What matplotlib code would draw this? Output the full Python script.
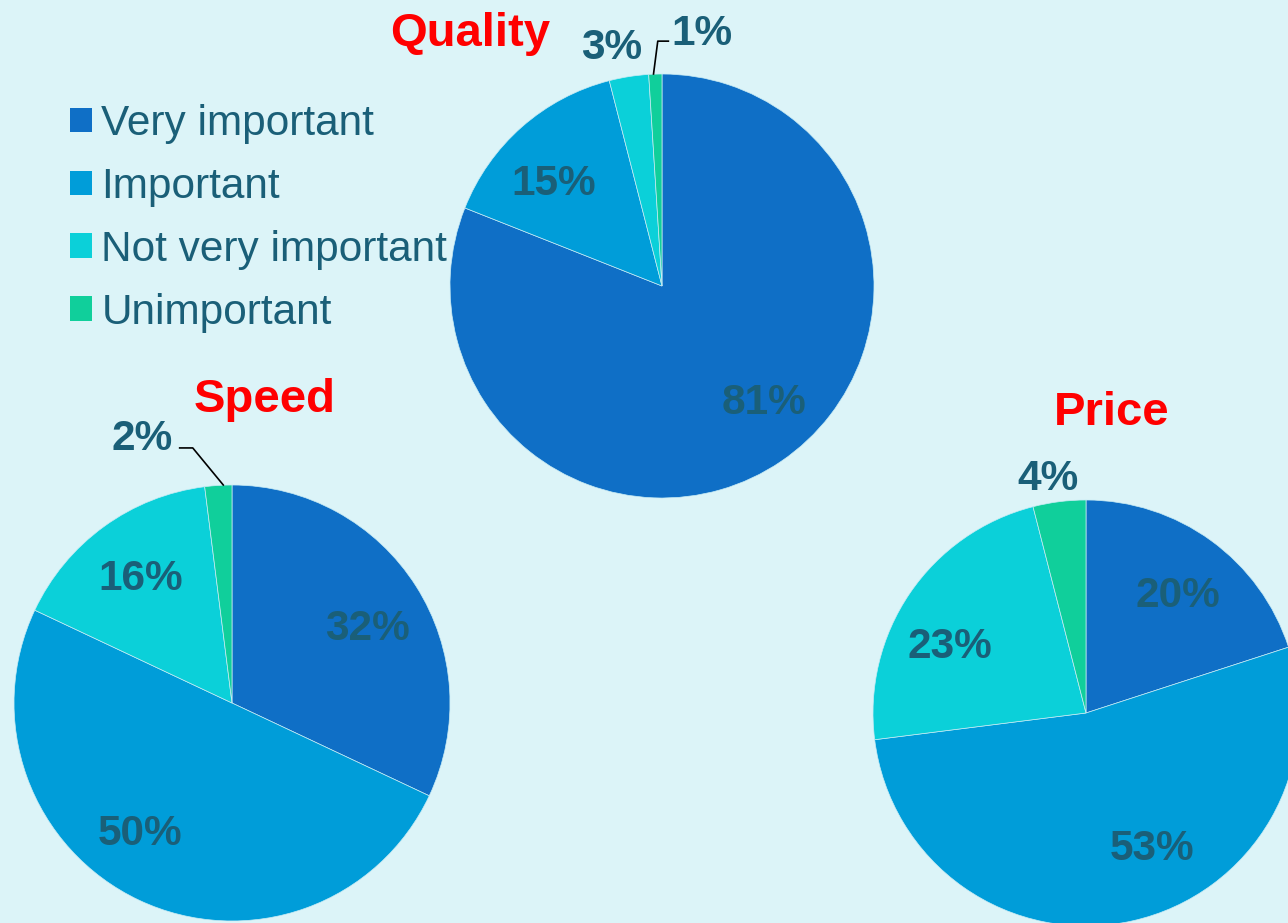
import matplotlib.pyplot as plt
from matplotlib.patches import Patch
from matplotlib.transforms import offset_copy

plt.rcParams["font.family"] = ["Liberation Sans", "DejaVu Sans"]

categories = ["Very important", "Important", "Not very important", "Unimportant"]
colors = ["#0F6FC6", "#009DD9", "#0BD0D9", "#10CF9B"]

titles = ["Quality", "Speed", "Price"]
quality = [81, 15, 3, 1]
speed = [32, 50, 16, 2]
price = [20, 53, 23, 4]

BG = "#DCF4F8"
LABEL_C = "#1A5F78"
W, H = 1288, 923
LABEL_FS = 30.5
TITLE_FS = 34

# pie placement in pixels: centre x, centre y (from top), radius
layout = {
    "Quality": (662, 286, 212),
    "Speed": (232, 703, 218),
    "Price": (1086, 713, 213),
}
# title centre x and baseline y in pixels
title_pos = {"Quality": (470, 46), "Speed": (265, 412), "Price": (1112, 425)}
# label offsets in radius units (centre of the digits), one per slice
label_pos = {
    "Quality": [(0.48, -0.53), (-0.51, 0.50), (-0.24, 1.14), (0.19, 1.21)],
    "Speed": [(0.62, 0.36), (-0.42, -0.58), (-0.42, 0.59), (-0.41, 1.23)],
    "Price": [(0.43, 0.57), (0.31, -0.62), (-0.64, 0.33), (-0.18, 1.12)],
}
# leader lines for the thin slices
leaders = {
    "Quality": [(-0.04, 1.0), (-0.02, 1.155), (0.03, 1.155)],
    "Speed": [(-0.04, 1.0), (-0.18, 1.17), (-0.24, 1.17)],
}

fig = plt.figure(figsize=(W / 100, H / 100), dpi=100)
fig.patch.set_facecolor(BG)

for name, vals in zip(titles, [quality, speed, price]):
    cx, cy, r = layout[name]
    ax = fig.add_axes([(cx - r) / W, (H - cy - r) / H, 2 * r / W, 2 * r / H])
    ax.pie(vals, colors=colors, startangle=90, counterclock=False, radius=1,
           wedgeprops=dict(edgecolor="#c8ecf5", linewidth=0.5))
    ax.set_xlim(-1, 1)
    ax.set_ylim(-1, 1)
    ax.set_aspect("equal")
    ax.axis("off")
    # shift down by half the cap height so the digits sit centred on the point
    trans = offset_copy(ax.transData, fig=fig, x=0, y=-0.358 * LABEL_FS, units="points")
    for v, (dx, dy) in zip(vals, label_pos[name]):
        ax.text(dx, dy, f"{v}%", ha="center", va="baseline", fontsize=LABEL_FS,
                fontweight="bold", color=LABEL_C, clip_on=False, transform=trans)
    if name in leaders:
        xs, ys = zip(*leaders[name])
        ax.plot(xs, ys, color="black", lw=1.2, clip_on=False)
    tx, ty = title_pos[name]
    fig.text(tx / W, 1 - ty / H, name, ha="center", va="baseline", fontsize=TITLE_FS,
             fontweight="bold", color="#FF0000")

handles = [Patch(facecolor=c, edgecolor="none") for c in colors]
fig.legend(handles, categories, loc="upper left", bbox_to_anchor=(70 / W, 1 - 104 / H),
           frameon=False, fontsize=30.5, labelcolor=LABEL_C,
           handlelength=0.52, handleheight=0.52, handletextpad=0.22,
           labelspacing=0.54, borderpad=0, borderaxespad=0)

fig.savefig("out.png", dpi=100, facecolor=BG)
